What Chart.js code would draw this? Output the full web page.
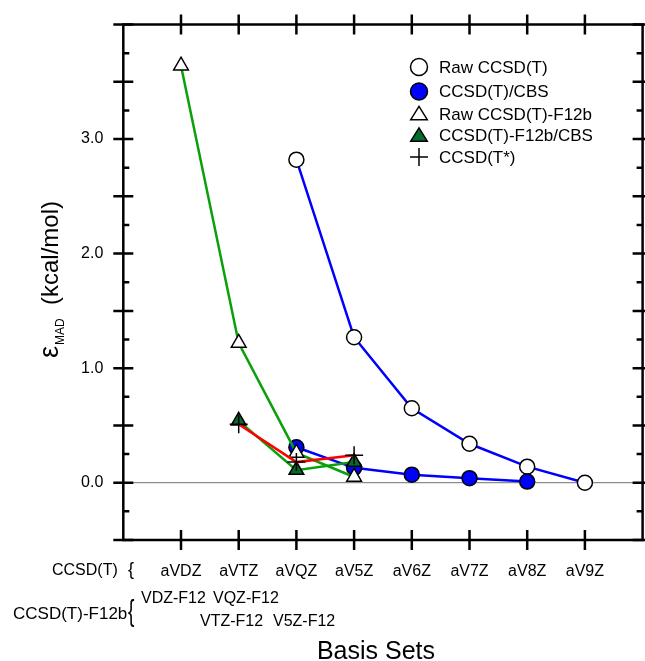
<!DOCTYPE html>
<html>
<head>
<meta charset="utf-8">
<script src="https://cdn.jsdelivr.net/npm/chart.js@4.4.0/dist/chart.umd.min.js"></script>
<style>
  body { margin: 0; background: #fff; }
  canvas { display: block; }
</style>
</head>
<body>
<canvas id="chart" width="645" height="661"></canvas>
<script>
// basis sets along the x axis (position 1..8)
const basisSets = ['aVDZ', 'aVTZ', 'aVQZ', 'aV5Z', 'aV6Z', 'aV7Z', 'aV8Z', 'aV9Z'];
const yTickValues = [0, 1, 2, 3];

// MAD values in kcal/mol, null = not computed
const rawCCSDT     = [null, null, 2.82, 1.27, 0.65, 0.34, 0.14, 0.00];
const ccsdtCBS     = [null, null, 0.31, 0.13, 0.07, 0.04, 0.01, null];
const rawF12b      = [3.64, 1.22, 0.26, 0.05, null, null, null, null];
const f12bCBS      = [null, 0.54, 0.11, 0.18, null, null, null, null];
const ccsdtStar    = [null, 0.51, 0.18, 0.24, null, null, null, null];

const FONT = "'Liberation Sans', Arial, Helvetica, sans-serif";
Chart.defaults.font.family = FONT;
Chart.defaults.color = '#000';

function toPoints(vals) {
    return vals.map((v, i) => ({ x: i + 1, y: v })).filter(p => p.y !== null);
}

const BLUE = '#0000ff';
const GREEN = '#0aa00a';
const DKGREEN = '#066b2c';
const RED = '#ff0000';

// frame, crossing ticks and zero line
const framePlugin = {
    id: 'frame',
    beforeDatasetsDraw(chart) {
        const { ctx, chartArea: a, scales: { y } } = chart;
        ctx.save();
        ctx.strokeStyle = '#8c8c8c';
        ctx.lineWidth = 1.2;
        ctx.beginPath();
        ctx.moveTo(a.left, y.getPixelForValue(0));
        ctx.lineTo(a.right, y.getPixelForValue(0));
        ctx.stroke();
        ctx.restore();
    },
    afterDatasetsDraw(chart) {
        const { ctx, chartArea: a, scales: { x, y } } = chart;
        ctx.save();
        ctx.strokeStyle = '#000';
        ctx.lineWidth = 2.5;
        ctx.lineCap = 'butt';
        ctx.strokeRect(a.left, a.top, a.right - a.left, a.bottom - a.top);
        ctx.beginPath();
        // y ticks: major every 0.5, minor every 0.25
        for (let v = -0.5; v <= 4.001; v += 0.25) {
            const py = y.getPixelForValue(v);
            const major = Math.abs(v * 2 - Math.round(v * 2)) < 1e-6;
            if (major) {
                ctx.moveTo(a.left - 10, py); ctx.lineTo(a.left + 10, py);
                ctx.moveTo(a.right - 10, py); ctx.lineTo(a.right + 10, py);
            } else {
                ctx.moveTo(a.left, py); ctx.lineTo(a.left + 6, py);
                ctx.moveTo(a.right - 6, py); ctx.lineTo(a.right, py);
            }
        }
        // x ticks
        for (let i = 1; i <= 8; i++) {
            const px = x.getPixelForValue(i);
            ctx.moveTo(px, a.bottom - 10); ctx.lineTo(px, a.bottom + 10);
            ctx.moveTo(px, a.top - 10); ctx.lineTo(px, a.top + 10);
        }
        ctx.stroke();
        ctx.restore();
    }
};

// legend, axis titles and the basis-set annotation rows
const textPlugin = {
    id: 'texts',
    afterDraw(chart) {
        const ctx = chart.ctx;
        ctx.save();
        ctx.fillStyle = '#000';

        // legend
        const lx = 419, tx = 439;
        const rows = [67, 91.5, 114, 135.5, 157];
        const names = ['Raw CCSD(T)', 'CCSD(T)/CBS', 'Raw CCSD(T)-F12b', 'CCSD(T)-F12b/CBS', 'CCSD(T*)'];
        ctx.lineWidth = 1.5;
        ctx.strokeStyle = '#000';
        // open circle
        ctx.beginPath(); ctx.arc(lx, rows[0], 8.5, 0, Math.PI * 2);
        ctx.fillStyle = '#fff'; ctx.fill(); ctx.stroke();
        // filled circle
        ctx.beginPath(); ctx.arc(lx, rows[1], 8.5, 0, Math.PI * 2);
        ctx.fillStyle = BLUE; ctx.fill(); ctx.stroke();
        // triangles
        [[rows[2], '#fff'], [rows[3], DKGREEN]].forEach(([ry, col]) => {
            const r = 9.5;
            ctx.beginPath();
            ctx.moveTo(lx, ry - r * 0.8);
            ctx.lineTo(lx + r * 0.87, ry + r * 0.6);
            ctx.lineTo(lx - r * 0.87, ry + r * 0.6);
            ctx.closePath();
            ctx.fillStyle = col; ctx.fill(); ctx.stroke();
        });
        // plus
        ctx.beginPath();
        ctx.moveTo(lx - 9, rows[4]); ctx.lineTo(lx + 9, rows[4]);
        ctx.moveTo(lx, rows[4] - 9); ctx.lineTo(lx, rows[4] + 9);
        ctx.stroke();

        ctx.fillStyle = '#000';
        ctx.font = '17px ' + FONT;
        ctx.textAlign = 'left';
        ctx.textBaseline = 'middle';
        names.forEach((n, i) => ctx.fillText(n, tx, rows[i] + 1));

        // y title with subscript, rotated
        ctx.save();
        ctx.translate(58, 377);
        ctx.rotate(-Math.PI / 2);
        ctx.textBaseline = 'alphabetic';
        ctx.font = '27px ' + FONT;
        const ew = ctx.measureText('\u03b5').width;
        ctx.fillText('\u03b5', 31 - ew, 0);
        ctx.font = '12px ' + FONT;
        ctx.fillText('MAD', 32, 6);
        ctx.font = '24px ' + FONT;
        ctx.fillText('(kcal/mol)', 72, 0);
        ctx.restore();

        // basis set rows below the axis
        ctx.font = '16px ' + FONT;
        ctx.fillText('CCSD(T)', 52, 571);
        ctx.font = '18px ' + FONT;
        ctx.fillText('{', 128, 570);
        ctx.font = '17px ' + FONT;
        ctx.fillText('CCSD(T)-F12b', 13, 614);
        ctx.font = '16px ' + FONT;
        ctx.fillText('VDZ-F12', 141, 599);
        ctx.fillText('VQZ-F12', 213, 599);
        ctx.fillText('VTZ-F12', 200, 622);
        ctx.fillText('V5Z-F12', 273, 622);
        ctx.save();
        ctx.translate(128, 613);
        ctx.scale(0.8, 1.25);
        ctx.font = '24px ' + FONT;
        ctx.fillText('{', 0, 0);
        ctx.restore();

        // x title
        ctx.font = '25px ' + FONT;
        ctx.textAlign = 'center';
        ctx.fillText('Basis Sets', 376, 652);
        ctx.restore();
    }
};

function noPadding(s) {
    s.paddingLeft = 0; s.paddingRight = 0;
    s.paddingTop = 0; s.paddingBottom = 0;
}

const ctx = document.getElementById('chart').getContext('2d');
new Chart(ctx, {
    type: 'line',
    data: {
        datasets: [
            {
                label: 'Raw CCSD(T)',
                data: toPoints(rawCCSDT),
                borderColor: BLUE, borderWidth: 2.5,
                pointStyle: 'circle', pointRadius: 7.5,
                pointBackgroundColor: '#fff', pointBorderColor: '#000', pointBorderWidth: 1.5,
                order: 5
            },
            {
                label: 'CCSD(T)/CBS',
                data: toPoints(ccsdtCBS),
                borderColor: BLUE, borderWidth: 2.5,
                pointStyle: 'circle', pointRadius: 7.5,
                pointBackgroundColor: BLUE, pointBorderColor: '#000', pointBorderWidth: 1.5,
                order: 4
            },
            {
                label: 'Raw CCSD(T)-F12b',
                data: toPoints(rawF12b),
                borderColor: GREEN, borderWidth: 2.5,
                pointStyle: 'triangle', pointRadius: 8.5,
                pointBackgroundColor: '#fff', pointBorderColor: '#000', pointBorderWidth: 1.5,
                order: 3
            },
            {
                label: 'CCSD(T)-F12b/CBS',
                data: toPoints(f12bCBS),
                borderColor: GREEN, borderWidth: 2.5,
                pointStyle: 'triangle', pointRadius: 8.5,
                pointBackgroundColor: DKGREEN, pointBorderColor: '#000', pointBorderWidth: 1.5,
                order: 2
            },
            {
                label: 'CCSD(T*)',
                data: toPoints(ccsdtStar),
                borderColor: RED, borderWidth: 2.5,
                pointStyle: 'cross', pointRadius: 9,
                pointBorderColor: '#000', pointBorderWidth: 1.5,
                order: 1
            }
        ]
    },
    options: {
        responsive: false,
        animation: false,
        events: [],
        devicePixelRatio: 1,
        layout: { autoPadding: false, padding: { left: 0, top: 24.5, right: 2.4, bottom: 0 } },
        plugins: { legend: { display: false }, tooltip: { enabled: false } },
        scales: {
            x: {
                type: 'linear', position: 'bottom', min: 0, max: 9,
                grid: { display: false, drawTicks: false }, border: { display: false },
                afterBuildTicks: s => { s.ticks = basisSets.map((b, i) => ({ value: i + 1 })); },
                afterFit: s => { s.height = 121; noPadding(s); },
                ticks: {
                    autoSkip: false, maxRotation: 0, padding: 22,
                    font: { size: 16 },
                    callback: v => basisSets[v - 1]
                }
            },
            y: {
                type: 'linear', min: -0.5, max: 4,
                grid: { display: false, drawTicks: false }, border: { display: false },
                afterBuildTicks: s => { s.ticks = yTickValues.map(v => ({ value: v })); },
                afterFit: s => { s.width = 123.3; noPadding(s); },
                ticks: {
                    padding: 20,
                    font: { size: 16 },
                    callback: v => v.toFixed(1)
                }
            }
        }
    },
    plugins: [framePlugin, textPlugin]
});
</script>
</body>
</html>
